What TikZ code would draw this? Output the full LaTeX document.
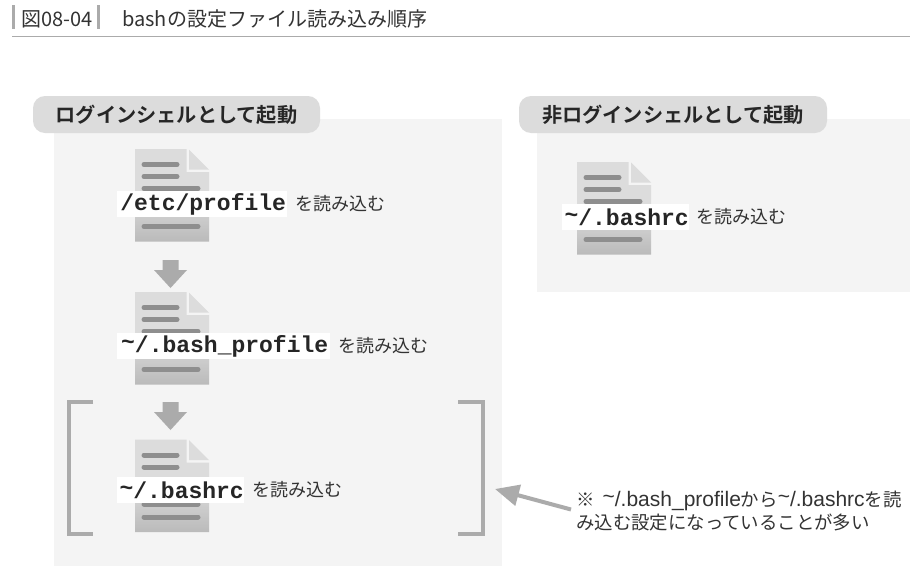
\documentclass[tikz,border=0pt]{standalone}
\usepackage{fontspec}
\setmainfont{Noto Sans CJK JP}
\newfontfamily\jpbold{Noto Sans CJK JP Bold}
\newfontfamily\monob{Liberation Mono Bold}
\newfontfamily\latn{Liberation Sans}
\usetikzlibrary{arrows.meta}
\definecolor{panelgray}{HTML}{F4F4F4}
\definecolor{pillgray}{HTML}{DCDCDC}
\definecolor{markgray}{HTML}{ABABAB}
\definecolor{linegray}{HTML}{8E8E8E}
\definecolor{inkgray}{HTML}{333333}
\newcommand{\hightilde}{\raisebox{3pt}{\textasciitilde}}
\newcommand{\notetilde}{\raisebox{3pt}{\textasciitilde}}
\tikzset{
  panel/.style={fill=panelgray,draw=none},
  pill/.style={fill=pillgray,draw=none,rounded corners=12pt,inner sep=0pt,minimum height=37pt,font=\jpbold\fontsize{20.2}{20.2}\selectfont,text=black!85},
  filelabel/.style={fill=white,inner sep=0pt,minimum height=26pt,anchor=west,font=\monob\fontsize{23}{23}\selectfont,text=black!85},
  readlabel/.style={anchor=west,inner sep=0pt,font=\fontsize{18}{18}\selectfont,text=inkgray},
  docline/.style={line width=5pt,line cap=round,draw=linegray},
  bracket/.style={draw=markgray,line width=4.5pt,line cap=butt,line join=miter},
  downarrow/.style={fill=markgray,draw=none},
  notearrow/.style={draw=markgray,line width=4pt,-{Triangle[length=24pt,width=21pt]},shorten >=0pt},
  titletext/.style={anchor=west,inner sep=0pt,font=\fontsize{20}{20}\selectfont,text=inkgray},
  notetext/.style={anchor=west,inner sep=0pt,align=left,font=\fontsize{18.4}{22.5}\selectfont,text=inkgray}
}
% document icon with top-left corner at (#1,#2)
\newcommand{\docicon}[2]{%
  \begin{scope}[shift={(#1,#2)}]
    \path[top color=pillgray,bottom color=black!27,middle color=pillgray]
      (0,0) -- (51.5,0) -- (51.5,23) -- (74,23) -- (74,92.5) -- (0,92.5) -- cycle;
    \fill[pillgray] (54,0.5) -- (74,20.5) -- (54,20.5) -- cycle;
    \draw[docline] (9,15.5) -- (42,15.5);
    \draw[docline] (9,27.5) -- (42,27.5);
    \draw[docline] (9,39.5) -- (63,39.5);
    \draw[docline] (9,64.5) -- (63,64.5);
    \draw[docline] (9,77.5) -- (63,77.5);
  \end{scope}}
% block down arrow with top at (#1,#2)
\newcommand{\downblock}[2]{%
  \fill[downarrow] (#1-8,#2) -- (#1+8,#2) -- (#1+8,#2+10) -- (#1+16.5,#2+10) -- (#1,#2+28) -- (#1-16.5,#2+10) -- (#1-8,#2+10) -- cycle;}
\begin{document}
\begin{tikzpicture}[x=1pt,y=-1pt]
\useasboundingbox (0,0) rectangle (910,568);
\fill[white] (0,0) rectangle (910,568);
% title
\fill[markgray] (12,5) rectangle (15,29);
\fill[markgray] (97,5) rectangle (100,29);
\node[titletext] (figno) at (21,19) {図08-04};
\node[titletext] (figtitle) at (122,19) {bashの設定ファイル読み込み順序};
\draw[draw=markgray,line width=1.2pt] (12,36.5) -- (910,36.5);
% panels
\fill[panel] (54,119) rectangle (502,566);
\fill[panel] (537,119) rectangle (910,292);
\node[pill,minimum width=287pt] (loginpill) at (176.5,114.5) {ログインシェルとして起動};
\node[pill,minimum width=308pt] (nonloginpill) at (673,114.5) {非ログインシェルとして起動};
% documents
\docicon{135}{149}
\docicon{135}{292}
\docicon{135}{439.5}
\docicon{577}{162}
% arrows
\downblock{170.5}{260}
\downblock{170.5}{402}
% labels
\node[filelabel,minimum width=170pt] (etc) at (117,204) {\hspace*{2pt}/etc/profile\hfill};
\node[readlabel] (etcr) at (295,204) {を読み込む};
\node[filelabel,minimum width=213pt] (bp) at (117,346) {\hspace*{2pt}\hightilde/.bash\_profile\hfill};
\node[readlabel] (bpr) at (338,346) {を読み込む};
\node[filelabel,minimum width=127pt] (rc) at (117,490) {\hspace*{2pt}\hightilde/.bashrc\hfill};
\node[readlabel] (rcr) at (252,490) {を読み込む};
\node[filelabel,minimum width=127pt] (rc2) at (562,217) {\hspace*{2pt}\hightilde/.bashrc\hfill};
\node[readlabel] (rc2r) at (696,217) {を読み込む};
% brackets
\draw[bracket] (93,402) -- (69,402) -- (69,534) -- (93,534);
\draw[bracket] (458,402) -- (483,402) -- (483,534) -- (458,534);
% note
\node[notetext] (note) at (576,511) {※\hspace{8pt}{\latn\fontsize{21}{22.5}\selectfont\notetilde/.bash\_profile}から{\latn\fontsize{21}{22.5}\selectfont\notetilde/.bashrc}を読\\み込む設定になっていることが多い};
\coordinate (notestart) at (571,509.5);
\coordinate (bracketend) at (495,489);
\draw[notearrow] (notestart) -- (bracketend);
\end{tikzpicture}
\end{document}
